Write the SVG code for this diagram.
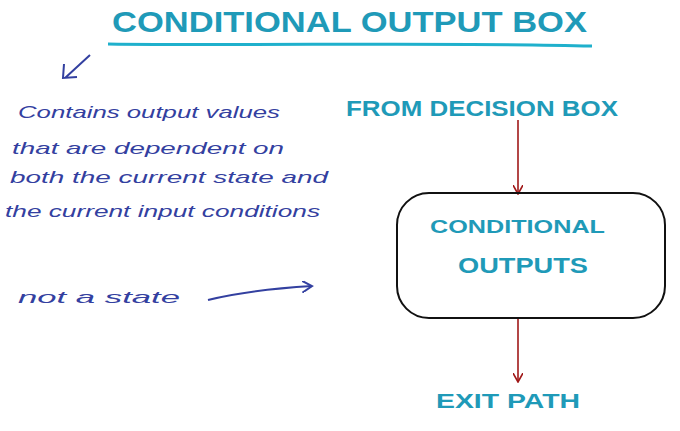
<svg xmlns="http://www.w3.org/2000/svg" width="680" height="431" viewBox="0 0 680 431">
<style>
.t{font-family:"Liberation Sans",sans-serif;fill:#1f9ab8;font-weight:bold}
.h{font-family:"Liberation Sans",sans-serif;fill:#3340a0;font-size:17px;font-style:italic}
.r{stroke:#a01818;stroke-width:1.6;fill:none}
</style>
<defs>
<marker id="ar" markerWidth="10" markerHeight="10" refX="8" refY="5" orient="auto" markerUnits="userSpaceOnUse"><path d="M0,0 L9,5 L0,10" fill="none" stroke="#a01818" stroke-width="1.6"/></marker>
<marker id="ab" markerWidth="12" markerHeight="12" refX="10" refY="6" orient="auto" markerUnits="userSpaceOnUse"><path d="M0,0 L10,6 L0,12" fill="none" stroke="#3340a0" stroke-width="2"/></marker>
</defs>
<rect width="680" height="431" fill="#fff"/>
<text class="t" x="112" y="32" font-size="30" textLength="475" lengthAdjust="spacingAndGlyphs">CONDITIONAL OUTPUT BOX</text>
<path d="M108,44 C250,46 450,42 592,46" stroke="#1fb0cc" stroke-width="3" fill="none"/>
<g id="notes">
<text class="h" x="18" y="118" textLength="262" lengthAdjust="spacingAndGlyphs">Contains output values</text>
<text class="h" x="12" y="154" textLength="272" lengthAdjust="spacingAndGlyphs">that are dependent on</text>
<text class="h" x="10" y="183" textLength="318" lengthAdjust="spacingAndGlyphs">both the current state and</text>
<text class="h" x="5" y="217" textLength="315" lengthAdjust="spacingAndGlyphs">the current input conditions</text>
<text class="h" x="18" y="303" textLength="162" lengthAdjust="spacingAndGlyphs">not a state</text>
</g>
<g id="connectors">
<path d="M90,55 L65,78 M64,64 L63,78 L77,77" stroke="#3340a0" stroke-width="2" fill="none"/>
<path d="M208,300 C240,292 280,288 312,286" stroke="#3340a0" stroke-width="2" fill="none" marker-end="url(#ab)"/>
<line class="r" x1="518" y1="120" x2="518" y2="193" marker-end="url(#ar)"/>
<line class="r" x1="518" y1="318" x2="518" y2="381" marker-end="url(#ar)"/>
</g>
<g id="from"><text class="t" x="346" y="116" font-size="22" textLength="272" lengthAdjust="spacingAndGlyphs">FROM DECISION BOX</text></g>
<g id="box">
<rect x="397" y="193" width="268" height="125" rx="32" fill="none" stroke="#111" stroke-width="2"/>
<text class="t" x="430" y="233" font-size="19" textLength="175" lengthAdjust="spacingAndGlyphs">CONDITIONAL</text>
<text class="t" x="458" y="273" font-size="22" textLength="130" lengthAdjust="spacingAndGlyphs">OUTPUTS</text>
</g>
<g id="exit"><text class="t" x="436" y="408" font-size="21" textLength="144" lengthAdjust="spacingAndGlyphs">EXIT PATH</text></g>
</svg>
